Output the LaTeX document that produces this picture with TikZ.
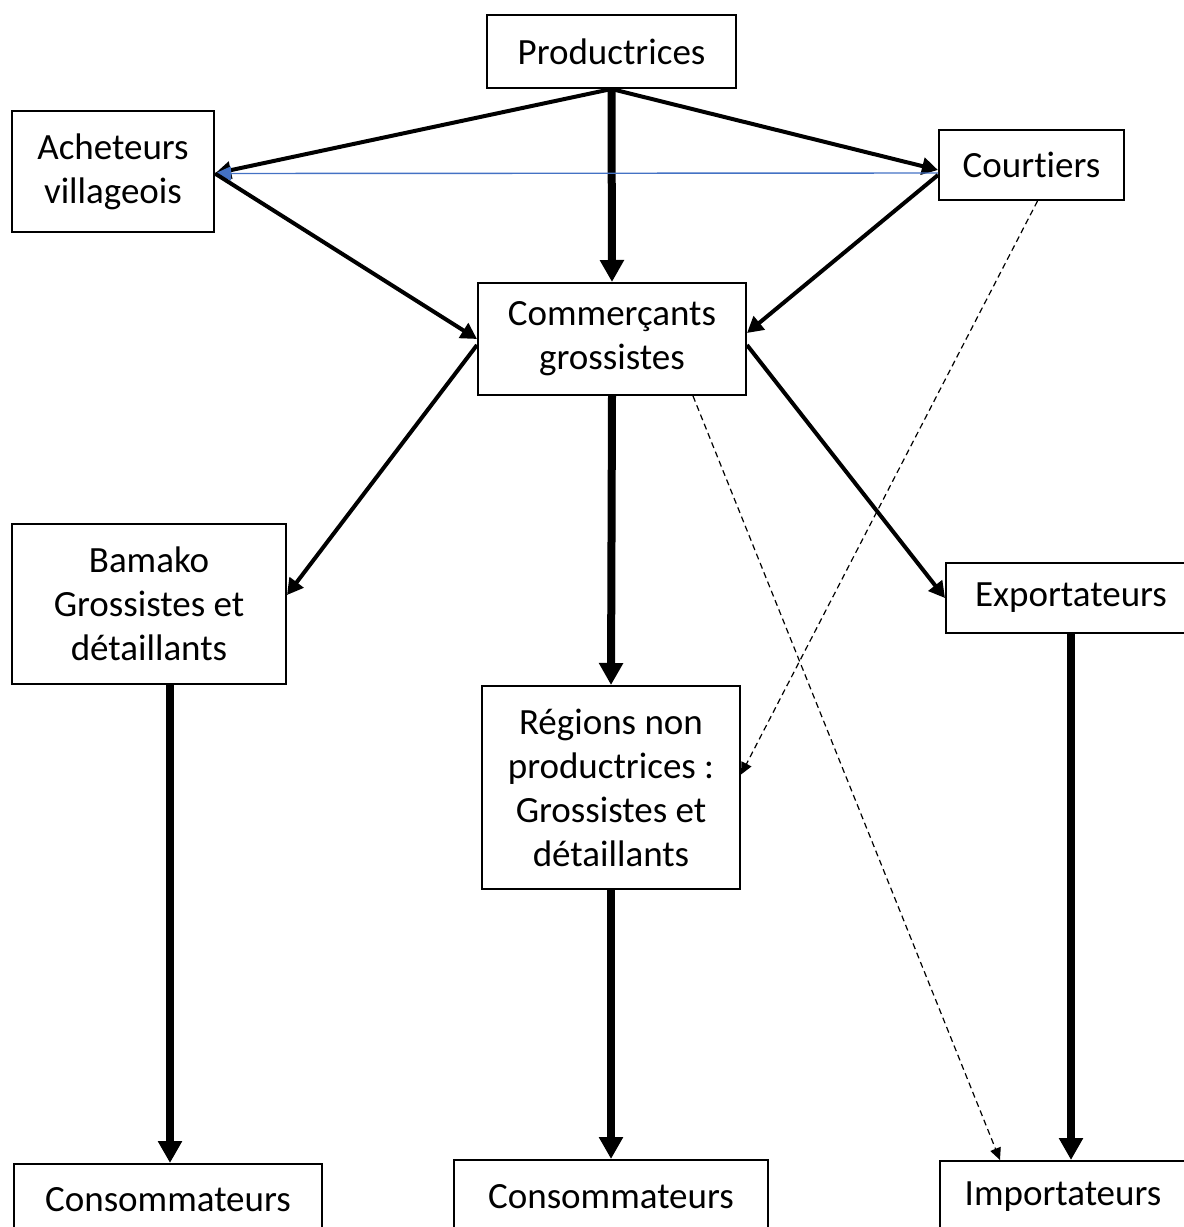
\documentclass[tikz,border=0pt]{standalone}
\usepackage{fontspec}
\setmainfont{Carlito}[Ligatures=NoCommon]
\usetikzlibrary{arrows.meta}
\definecolor{linkblue}{RGB}{68,114,196}
\tikzset{
    actor/.style={draw=black, line width=1pt, align=center, inner sep=0pt, font=\fontsize{18.5}{22}\selectfont},
    flow/.style={line width=2pt, -{Triangle[length=8pt, width=8.5pt]}},
    mainflow/.style={line width=4pt, -{Triangle[length=11pt, width=11.5pt]}},
    sideflow/.style={line width=0.6pt, dash pattern=on 3pt off 2pt, -{Triangle[length=6pt, width=5.5pt]}},
    infoflow/.style={line width=0.7pt, draw=linkblue, -{Triangle[length=8pt, width=7pt, fill=linkblue]}},
}

\begin{document}
\begin{tikzpicture}[x=0.5pt, y=-0.5pt]
    \clip (0,0) rectangle (1184,1227);

    \node[actor, minimum width=124.5pt, minimum height=36.5pt] (prod) at (611.5, 51.5) {Productrices};
    \node[actor, minimum width=101pt, minimum height=60.5pt] (ach) at (113, 171.5) {Acheteurs\\villageois};
    \node[actor, minimum width=92.5pt, minimum height=35pt] (court) at (1031.5, 165) {Courtiers};
    \node[actor, minimum width=134pt, minimum height=56pt] (comm) at (612, 339) {Commerçants\\grossistes};
    \node[actor, minimum width=137pt, minimum height=80pt] (bam) at (149, 604) {Bamako\\Grossistes et\\détaillants};
    \node[actor, minimum width=125pt, minimum height=35pt] (exp) at (1071, 598) {Exportateurs};
    \node[actor, minimum width=129pt, minimum height=101.5pt] (reg) at (611, 787.5) {Régions non\\productrices :\\Grossistes et\\détaillants};
    \node[actor, minimum width=154pt, minimum height=36pt] (cons1) at (168, 1200) {Consommateurs};
    \node[actor, minimum width=157pt, minimum height=37pt] (cons2) at (611, 1197) {Consommateurs};
    \node[actor, minimum width=123pt, minimum height=36pt] (imp) at (1063, 1197) {Importateurs};

    % collecte
    \draw[flow] (prod.south) -- ([yshift=-1pt]ach.east);
    \draw[flow] (prod.south) -- ([yshift=-2.5pt]court.west);
    \draw[mainflow] (prod.south) -- (comm.north);
    \draw[infoflow] ([yshift=-4pt]court.west) -- ([yshift=-1pt]ach.east);
    \draw[flow] ([yshift=-1pt]ach.east) -- (comm.west);
    \draw[flow] ([yshift=-5pt]court.west) -- ([yshift=3pt]comm.east);

    % distribution
    \draw[flow] ([yshift=-3pt]comm.west) -- ([yshift=4.5pt]bam.east);
    \draw[flow] ([yshift=-3pt]comm.east) -- (exp.west);
    \draw[mainflow] (comm.south) -- (reg.north);
    \draw[mainflow] ([xshift=10.5pt]bam.south) -- ([xshift=10.5pt]bam.south |- cons1.north);
    \draw[mainflow] (reg.south) -- (cons2.north);
    \draw[mainflow] (exp.south) -- (exp.south |- imp.north);
    \draw[sideflow] ([xshift=3pt]court.south) -- ([yshift=6.5pt]reg.east);
    \draw[sideflow] ([xshift=40.5pt]comm.south) -- ([xshift=-31.5pt]imp.north);
\end{tikzpicture}
\end{document}
